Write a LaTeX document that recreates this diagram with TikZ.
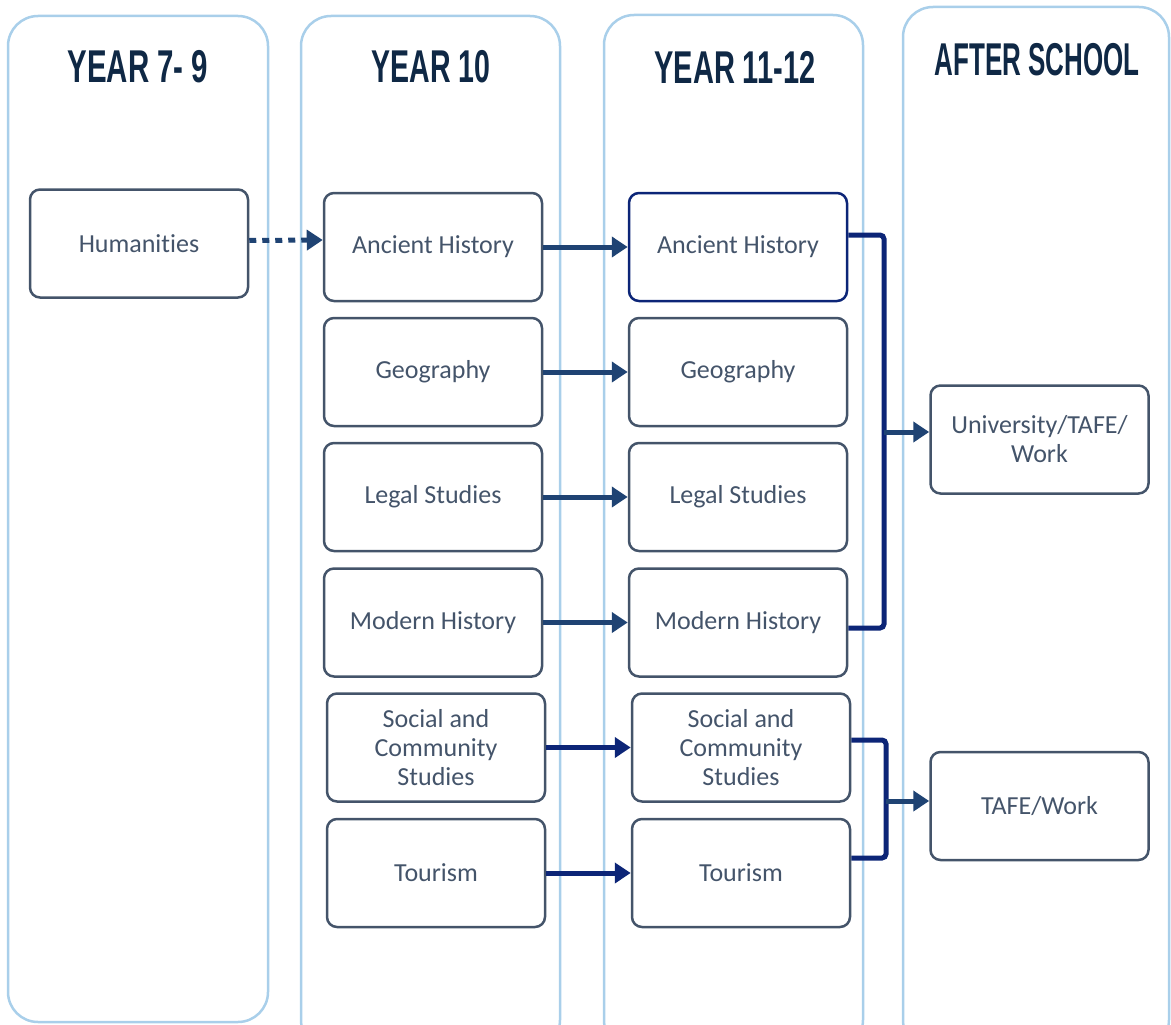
\documentclass[tikz,border=0pt]{standalone}
\usepackage{fontspec}
\setmainfont{Carlito}[Ligatures={NoCommon}]
\newfontfamily\headfont{Liberation Sans}
\usetikzlibrary{arrows.meta}
\definecolor{colline}{HTML}{A9CFEA}
\definecolor{boxline}{HTML}{44546A}
\definecolor{headc}{HTML}{0F2845}
\definecolor{arr}{HTML}{1F4373}
\definecolor{navyc}{HTML}{0C2577}
\newcommand\hdtext[2][0.64]{\scalebox{#1}[1]{#2}}
\tikzset{
  lane/.style={draw=colline, line width=2.5pt, rounded corners=30pt},
  subj/.style={draw=boxline, line width=2.5pt, rounded corners=10pt, minimum width=218pt, minimum height=108pt, align=center, text=boxline, font=\fontsize{26}{29}\selectfont, inner sep=0pt},
  subjhi/.style={subj, draw=navyc},
  head/.style={text=headc, font=\headfont\bfseries\fontsize{46}{46}\selectfont, inner sep=0pt},
  flow/.style={draw=arr, line width=5pt, -{Triangle[length=16pt,width=20pt]}},
  flownavy/.style={flow, draw=navyc},
  dotflow/.style={flow, dash pattern=on 7pt off 6pt},
  bracket/.style={draw=navyc, line width=5pt, rounded corners=4pt}
}
\begin{document}
\begin{tikzpicture}[x=1pt,y=-1pt]
\useasboundingbox (0,0) rectangle (1171,1025);
\clip (0,0) rectangle (1171,1025);
% lanes
\draw[lane] (8,16) rectangle (268,1022);
\draw[lane] (301,16) rectangle (560,1050);
\draw[lane] (604,15) rectangle (863,1050);
\draw[lane] (903,7) rectangle (1169,1050);
% headers
\node[head] (h1) at (138,67) {\hdtext{YEAR 7- 9}};
\node[head] (h2) at (431,67) {\hdtext[0.62]{YEAR 10}};
\node[head] (h3) at (735,67) {\hdtext[0.63]{YEAR 11-12}};
\node[head] (h4) at (1037,60) {\hdtext[0.565]{AFTER SCHOOL}};
% boxes
\node[subj] (hum) at (139,243.5) {Humanities};
\node[subj] (anc10) at (433,247) {Ancient History};
\node[subj] (geo10) at (433,372) {Geography};
\node[subj] (leg10) at (433,497) {Legal Studies};
\node[subj] (mod10) at (433,622.5) {Modern History};
\node[subj] (soc10) at (436,747.5) {Social and\\Community\\Studies};
\node[subj] (tou10) at (436,873) {Tourism};
\node[subjhi] (anc11) at (738,247) {Ancient History};
\node[subj] (geo11) at (738,372) {Geography};
\node[subj] (leg11) at (738,497) {Legal Studies};
\node[subj] (mod11) at (738,622.5) {Modern History};
\node[subj] (soc11) at (741,747.5) {Social and\\Community\\Studies};
\node[subj] (tou11) at (741,873) {Tourism};
\node[subj] (uni) at (1039.5,439.5) {University/TAFE/\\Work};
\node[subj] (tafe) at (1039.5,806) {TAFE/Work};
% arrows
\draw[dotflow] ([yshift=3pt]hum.east) -- ([yshift=7pt]anc10.west);
\draw[flow] (anc10) -- (anc11);
\draw[flow] (geo10) -- (geo11);
\draw[flow] (leg10) -- (leg11);
\draw[flow] (mod10) -- (mod11);
\draw[flownavy] (soc10) -- (soc11);
\draw[flownavy] (tou10) -- (tou11);
% brackets
\coordinate (j1) at (884,432);
\coordinate (j2) at (886,801);
\draw[bracket] ([yshift=12pt]anc11.east) -- (884,235) -- (884,628) -- ([yshift=-5.5pt]mod11.east);
\draw[bracket] ([yshift=7.5pt]soc11.east) -- (886,740) -- (886,858) -- ([yshift=15pt]tou11.east);
\draw[flow] (j1) -- (uni.west |- j1);
\draw[flow] (j2) -- (tafe.west |- j2);
\end{tikzpicture}
\end{document}
